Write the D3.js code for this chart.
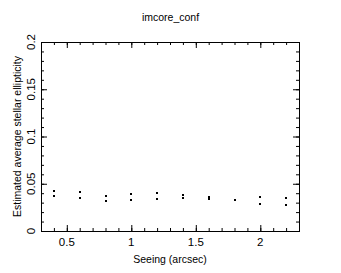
<!DOCTYPE html>
<html>
<head>
<meta charset="utf-8">
<script src="https://cdn.jsdelivr.net/npm/d3@7"></script>
<style>
  body { margin: 0; background: #fff; }
  text { font-family: "Liberation Sans", Arial, sans-serif; font-size: 10.5px; fill: #000; }
  text.tl { font-size: 11.5px; }
</style>
</head>
<body>
<svg class="chart"></svg>
<script>
var width = 341,
    height = 273;

// seeing values (arcsec) and the estimated ellipticities
var seeing = [0.4, 0.6, 0.8, 1.0, 1.2, 1.4, 1.6, 1.8, 2.0, 2.2];
var ellipUpper = [0.042, 0.041, 0.0375, 0.039, 0.0405, 0.038, 0.036, 0.033, 0.036, 0.0345];
var ellipLower = [0.037, 0.0345, 0.032, 0.0328, 0.0335, 0.035, 0.0335, 0.0325, 0.0286, 0.0275];
var xTicks = [0.5, 1, 1.5, 2];
var yTicks = [0, 0.05, 0.1, 0.15, 0.2];

var margin = {left: 41, right: 42, top: 42, bottom: 42};

var x = d3.scaleLinear().domain([0.3, 2.3]).range([margin.left, width - margin.right]);
var y = d3.scaleLinear().domain([0, 0.2]).range([height - margin.bottom, margin.top]);

var svg = d3.select(".chart")
    .attr("width", width)
    .attr("height", height);

var fmt = d => d === 0 ? "0" : String(d);

// four sides, ticks pointing inward
function side(axis, tr) {
    return svg.append("g").attr("transform", tr).call(axis)
        .call(g => g.select(".domain").attr("stroke", "#000").attr("stroke-width", 1))
        .call(g => g.selectAll(".tick line").attr("stroke", "#000"));
}

var x0 = y.range()[0], x1 = y.range()[1];
var xMinor = d3.range(3, 24).map(d => d / 10);
var yMinor = d3.range(0, 21).map(d => d / 100);

[[d3.axisBottom, x0], [d3.axisTop, x1]].forEach(([ax, pos]) => {
    side(ax(x).tickValues(xMinor).tickSize(-3).tickFormat(""), `translate(0,${pos})`);
    side(ax(x).tickValues(xTicks).tickSize(-6).tickFormat(""), `translate(0,${pos})`);
});
[[d3.axisLeft, x.range()[0]], [d3.axisRight, x.range()[1]]].forEach(([ax, pos]) => {
    side(ax(y).tickValues(yMinor).tickSize(-3).tickFormat(""), `translate(${pos},0)`);
    side(ax(y).tickValues(yTicks).tickSize(-6).tickFormat(""), `translate(${pos},0)`);
});
svg.selectAll(".domain").attr("stroke-linecap", "square");

// tick labels
svg.append("g").selectAll("text").data(xTicks).enter().append("text")
    .attr("class", "tl")
    .attr("x", d => x(d))
    .attr("y", x0 + 15)
    .attr("text-anchor", "middle")
    .text(fmt);

svg.append("g").selectAll("text").data(yTicks).enter().append("text")
    .attr("class", "tl")
    .attr("transform", d => `translate(${x.range()[0] - 6},${y(d)}) rotate(-90)`)
    .attr("text-anchor", "middle")
    .text(fmt);

// titles
svg.append("text").attr("x", 170.5).attr("y", 21).attr("text-anchor", "middle").text("imcore_conf");
svg.append("text").attr("x", 170).attr("y", 263).attr("text-anchor", "middle").text("Seeing (arcsec)");
svg.append("text")
    .attr("transform", `translate(21,${(y.range()[0] + y.range()[1]) / 2}) rotate(-90)`)
    .attr("text-anchor", "middle")
    .text("Estimated average stellar ellipticity");

// points
var pts = [];
seeing.forEach((s, i) => {
    pts.push([s, ellipUpper[i]]);
    pts.push([s, ellipLower[i]]);
});
svg.append("g").selectAll("rect").data(pts).enter().append("rect")
    .attr("x", d => Math.round(x(d[0])) - 1)
    .attr("y", d => Math.round(y(d[1])) - 1)
    .attr("width", 2)
    .attr("height", 2)
    .attr("fill", "#000");
</script>
</body>
</html>
